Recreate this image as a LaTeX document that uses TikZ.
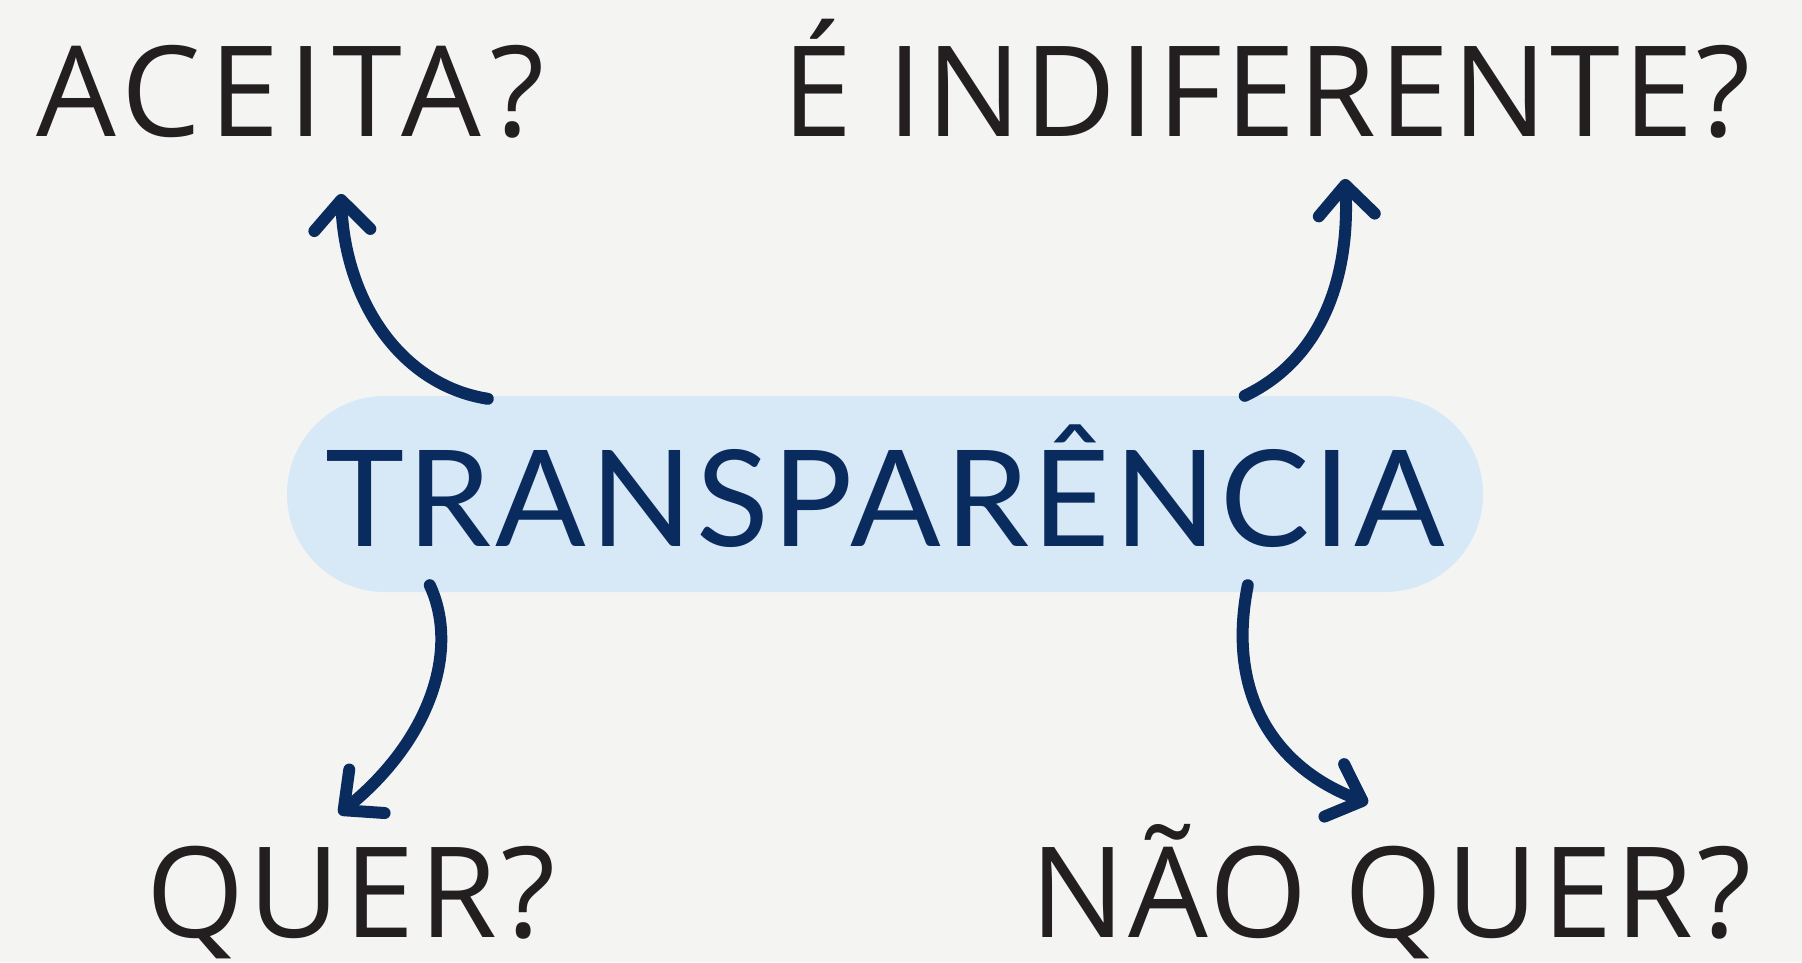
\documentclass[tikz,border=0pt]{standalone}
\usepackage{fontspec}
\usepackage{tikz}
\usetikzlibrary{arrows}
\usetikzlibrary{arrows.meta}
\setmainfont[LetterSpace=3.5]{Open Sans}
\newfontfamily\pillfont[LetterSpace=2.8]{Lato}
\definecolor{navy}{HTML}{0A2B5E}
\definecolor{pillblue}{HTML}{D7E8F7}
\definecolor{ink}{HTML}{231F20}
\definecolor{paper}{HTML}{F4F4F3}

\begin{document}
\begin{tikzpicture}[x=1pt,y=-1pt,
        question/.style={anchor=base west,inner sep=0pt,text=ink,font=\fontsize{126}{130}\selectfont},
        pill/.style={fill=pillblue,rounded corners=98pt,minimum width=1196pt,minimum height=196pt,inner sep=0pt,text height=104pt,text depth=0pt,text=navy,font=\pillfont\fontsize{134}{140}\selectfont},
        curvearrow/.style={draw=navy,line width=12pt,line cap=round,line join=round,-{Straight Barb[length=30pt,width=56pt,round]}}]
        \useasboundingbox[fill=paper] (0,0) rectangle (1802,962);
        % labels
        \node[question] (aceita) at (36,136) {\addfontfeature{LetterSpace=6.8}ACEITA?};
        \node[question] (indif) at (782,136) {\addfontfeature{LetterSpace=2.4}É INDIFERENTE?};
        \node[question] (quer) at (146,937) {QUER?};
        \node[question] (naoquer) at (1030,937) {\addfontfeature{LetterSpace=3}NÃO QUER?};
        \node[pill] (transp) at (885,494) {TRANSPARÊNCIA};
        % arrow tips
        \coordinate (aceitaTip) at (341,194);
        \coordinate (indifTip) at (1345,179);
        \coordinate (querTip) at (339,814);
        \coordinate (naoquerTip) at (1368,803);
        \draw[curvearrow] ([xshift=201pt,yshift=-3pt]transp.north west) .. controls (400,385) and (345,300) .. (aceitaTip);
        \draw[curvearrow] ([xshift=958pt]transp.north west) .. controls (1320,360) and (1350,280) .. (indifTip);
        \draw[curvearrow] ([xshift=143pt,yshift=7pt]transp.south west) .. controls (460,650) and (430,740) .. (querTip);
        \draw[curvearrow] ([xshift=961pt,yshift=7pt]transp.south west) .. controls (1225,700) and (1280,770) .. (naoquerTip);
\end{tikzpicture}
\end{document}
